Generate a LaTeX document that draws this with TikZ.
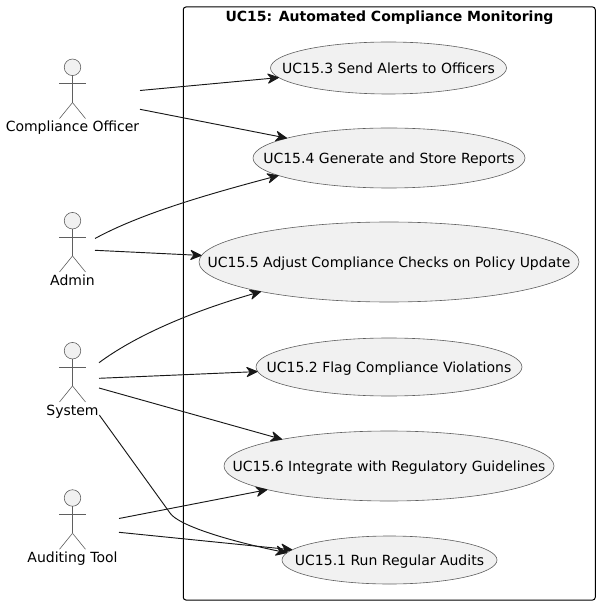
\documentclass[tikz,border=0pt]{standalone}
\usepackage{fontspec}
\setmainfont{DejaVu Sans}
\usetikzlibrary{shapes.geometric,arrows.meta,calc}
\definecolor{fillc}{HTML}{F1F1F1}
\definecolor{linec}{HTML}{181818}
\definecolor{edgec}{HTML}{5F5F5F}
\tikzset{
  uc/.style={ellipse,draw=edgec,line width=0.45pt,fill=fillc,inner sep=0pt,outer sep=0pt,text=black,font=\fontsize{10.5pt}{12pt}\selectfont},
  limb/.style={draw=edgec,line width=0.45pt},
  head/.style={circle,draw=edgec,line width=0.45pt,fill=fillc,inner sep=0pt,outer sep=0pt,minimum size=12.4pt},
  actorlabel/.style={inner sep=0pt,anchor=base,text=black,font=\fontsize{10.5pt}{12pt}\selectfont},
  conn/.style={draw=linec,line width=0.7pt,-{Stealth[length=9.5pt,width=8.5pt,inset=3pt,round]}},
}
\newcommand{\uctext}[1]{\raisebox{-3.9pt}[0pt][0pt]{\makebox[0pt]{#1}}}
\newcommand{\actor}[4]{% name, x, head y, label
  \node[head] (#1) at (#2,#3) {};
  \path[limb] (#1.south) -- ++(0,27) coordinate (#1hip);
  \path[limb] ($(#1.south)+(-13.5,8)$) -- ++(27,0);
  \path[limb] (#1hip) -- ++(-13,16);
  \path[limb] (#1hip) -- ++(13,16);
  \node[actorlabel] (#1label) at ($(#2,#3)+(0,64.7)$) {#4};
}
\begin{document}
\begin{tikzpicture}[x=0.75pt,y=-0.75pt]
\useasboundingbox (0,0) rectangle (599,605);
\node[draw=black,rounded corners=2pt,line width=0.75pt,minimum width=309pt,minimum height=444.75pt,inner sep=0pt,outer sep=0pt] (frame) at (389.25,303.5) {};
\node[font=\bfseries\fontsize{10.5pt}{12pt}\selectfont,inner sep=0pt] (title) at (389.5,18) {UC15: Automated Compliance Monitoring};
\node[uc,minimum width=177pt,minimum height=39pt] (u3) at (388.5,68) {\uctext{UC15.3 Send Alerts to Officers}};
\node[uc,minimum width=204pt,minimum height=45pt] (u4) at (389,158) {\uctext{UC15.4 Generate and Store Reports}};
\node[uc,minimum width=285pt,minimum height=60pt] (u5) at (389,262) {\uctext{UC15.5 Adjust Compliance Checks on Policy Update}};
\node[uc,minimum width=199.5pt,minimum height=43.5pt] (u2) at (389,367) {\uctext{UC15.2 Flag Compliance Violations}};
\node[uc,minimum width=247.5pt,minimum height=52.5pt] (u6) at (389,466) {\uctext{UC15.6 Integrate with Regulatory Guidelines}};
\node[uc,minimum width=161.25pt,minimum height=36pt] (u1) at (389.5,560) {\uctext{UC15.1 Run Regular Audits}};
\actor{co}{72.5}{67.3}{Compliance Officer}
\actor{ad}{72.5}{220.7}{Admin}
\actor{sy}{72.5}{350.7}{System}
\actor{at}{72.5}{498}{Auditing Tool}
\coordinate (co1) at (140,90.5);
\coordinate (co2) at (140,109.3);
\coordinate (ad1) at (95,238.5);
\coordinate (ad2) at (95,250.3);
\coordinate (sy1) at (99,362.7);
\coordinate (sy2) at (99,378.3);
\coordinate (sy3) at (99,388);
\coordinate (sy4) at (99.3,415);
\coordinate (at1) at (119,518.5);
\coordinate (at2) at (119,532.3);
\path[conn] (co1) -- (u3.185.2);
\path[conn] (co2) -- (u4.169.4);
\path[conn] (ad1) .. controls (140,214) and (205,195) .. (u4.189.6);
\path[conn] (ad2) -- (u5.178.4);
\path[conn] (sy1) .. controls (135,336) and (190,312) .. (u5.193.2);
\path[conn] (sy2) -- (u2.182.3);
\path[conn] (sy3) -- (u6.166.6);
\path[conn] (at1) -- (u6.191.1);
\path[conn] (at2) -- (u1.174.2);
\path[conn] (sy4) -- (170,513) .. controls (178,525) and (225,540) .. (u1.176.1);
\end{tikzpicture}
\end{document}
